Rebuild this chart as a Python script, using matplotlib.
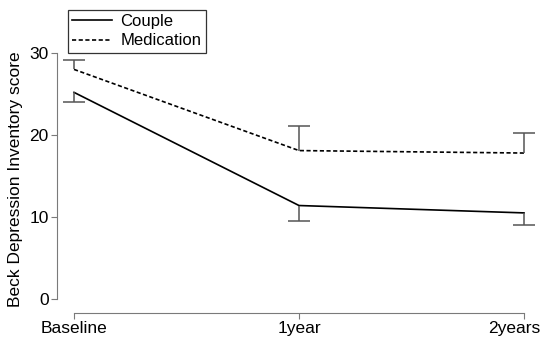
import matplotlib as mpl
mpl.use('Agg')
import matplotlib.pyplot as plt
import matplotlib.transforms as mtransforms

plt.rcParams['font.family'] = ['Liberation Sans', 'DejaVu Sans']

timepoints = ["Baseline", "1year", "2years"]
couple_mean = [25.2, 11.4, 10.5]
couple_err = [1.2, 1.9, 1.5]
medication_mean = [28.0, 18.1, 17.8]
medication_err = [1.2, 3.0, 2.4]

grey = "#7a7a7a"
x = list(range(len(timepoints)))

fig = plt.figure(figsize=(5.41, 3.38), dpi=100)
# axes left edge = y spine, bottom edge = x spine
ax = fig.add_axes([57 / 541, 1 - 313 / 338, 1 - 57 / 541, (313 - 8) / 338])

ax.plot(x, couple_mean, color="black", lw=1.2, label="Couple")
ax.plot(x, medication_mean, color="black", lw=1.2, ls=(0, (2.5, 1.5)), label="Medication")

# one-sided error bars: couple downward, medication upward
c_low = [m - e for m, e in zip(couple_mean, couple_err)]
m_high = [m + e for m, e in zip(medication_mean, medication_err)]
ax.vlines(x, c_low, couple_mean, color="#555555", lw=1.1)
ax.vlines(x, medication_mean, m_high, color="#555555", lw=1.1)
ax.plot(x, c_low, ls="none", marker="_", ms=16, mew=1.1, color="#555555")
ax.plot(x, m_high, ls="none", marker="_", ms=16, mew=1.1, color="#555555")

ax.set_xlim(-17 / 225, (541 - 74) / 225)
ax.set_ylim(-14 / 8.2, 305 / 8.2 - 14 / 8.2)
for s in ["top", "right"]:
    ax.spines[s].set_visible(False)
ax.spines["left"].set_bounds(0, 30)
ax.spines["bottom"].set_bounds(0, 2)
ax.spines["left"].set_color(grey)
ax.spines["bottom"].set_color(grey)
ax.set_xticks(x)
ax.set_xticklabels(timepoints)
ax.set_yticks([0, 10, 20, 30])
ax.tick_params(colors=grey, labelcolor="black", labelsize=12.5, length=4, pad=2)
ax.set_ylabel("Beck Depression Inventory score", fontsize=12.5)
ax.yaxis.set_label_coords(-0.07, 0.44)
ax.patch.set_visible(False)

# last label is pushed left so it stays inside the figure
last = ax.get_xticklabels()[-1]
last.set_transform(last.get_transform() + mtransforms.ScaledTranslation(-0.1, 0, fig.dpi_scale_trans))

leg = fig.legend(loc="upper left", bbox_to_anchor=(68 / 541, 1 - 10 / 338),
                 borderaxespad=0, fontsize=12, fancybox=False, edgecolor="black",
                 handlelength=2.4, handletextpad=0.5, borderpad=0.25, labelspacing=0.25)
leg.get_frame().set_linewidth(0.9)

fig.savefig("out.png", dpi=100)
